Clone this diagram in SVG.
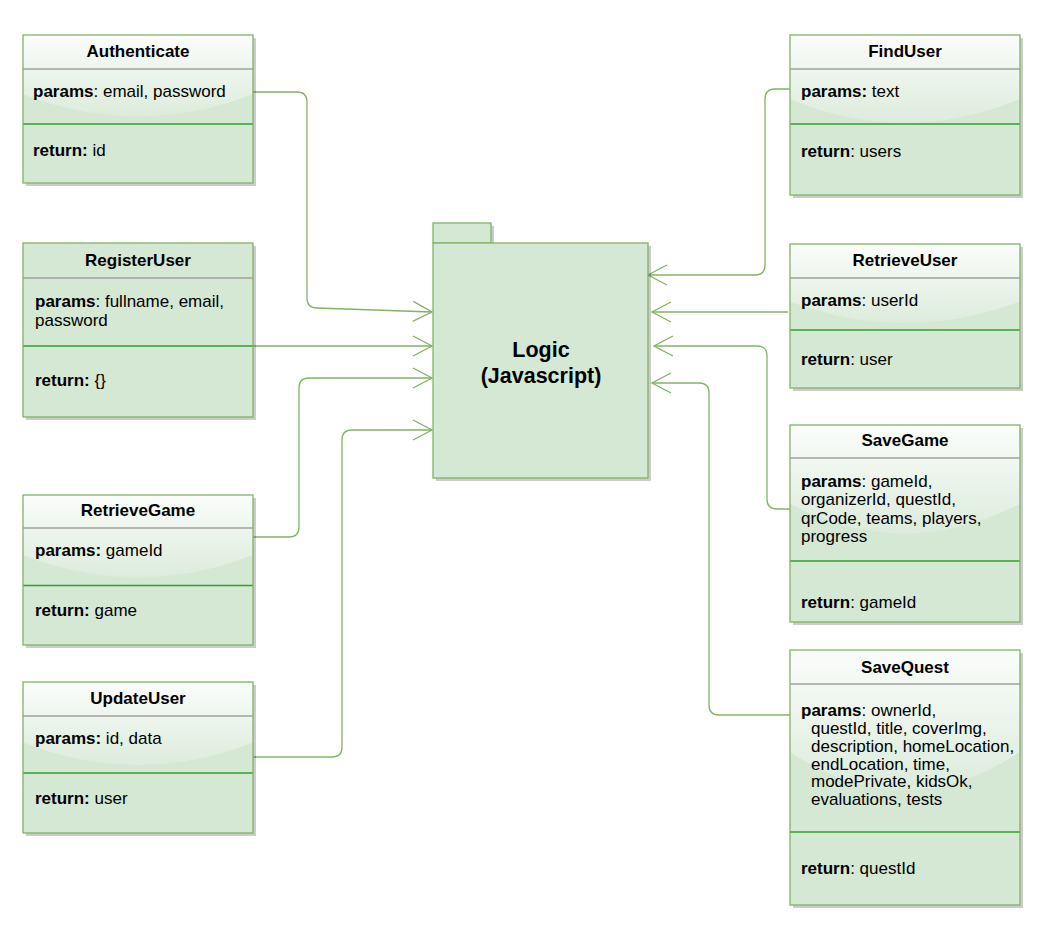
<svg xmlns="http://www.w3.org/2000/svg" width="1049" height="935" viewBox="0 0 1049 935">
<style>
.shadow{fill:#000;fill-opacity:0.2}
.box{fill:#d5e8d4}
.border{fill:none;stroke:#82b366;stroke-width:1.3}
.glass{fill:url(#glassGrad)}
.tsep{stroke:#a0a0a0;stroke-width:1.3}
.msep{stroke:#2f9e2f;stroke-width:1.3}
text{font-family:"Liberation Sans",Arial,Helvetica,sans-serif;font-size:17px;fill:#000}
.title{font-weight:bold;text-anchor:middle}
.b{font-weight:bold}
.big{font-size:21.5px;font-weight:bold;text-anchor:middle}
.conn{fill:none;stroke:#82b366;stroke-width:1.3;marker-end:url(#arr)}
</style>
<defs>
<linearGradient id="glassGrad" x1="0" y1="0" x2="0" y2="1.09">
<stop offset="0" stop-color="#fff" stop-opacity="0.9"/>
<stop offset="1" stop-color="#fff" stop-opacity="0.1"/>
</linearGradient>
<marker id="arr" viewBox="-21 -11 23 22" refX="0" refY="0" markerWidth="23" markerHeight="22" orient="auto" markerUnits="userSpaceOnUse">
<path d="M-19,-10 L0,0 L-19,10" fill="none" stroke="#82b366" stroke-width="1.3"/>
</marker>
</defs>
<rect width="1049" height="935" fill="#fff"/>

<g id="connectors">
<path class="conn" d="M253,92 L297,92 Q307,92 307,102 L307,298 Q307,308 317,308 L432,312"/>
<path class="conn" d="M253,346 L432,346"/>
<path class="conn" d="M253,537 L289,537 Q299,537 299,527 L299,388 Q299,378 309,378 L432,378"/>
<path class="conn" d="M253,757 L332,757 Q342,757 342,747 L342,440 Q342,430 352,430 L432,430"/>
<path class="conn" d="M790,89 L775,89 Q765,89 765,99 L765,265 Q765,275 755,275 L648,275"/>
<path class="conn" d="M788,312 L652,312"/>
<path class="conn" d="M790,509 L777,509 Q767,509 767,499 L767,356 Q767,346 757,346 L654,346"/>
<path class="conn" d="M790,715 L719,715 Q709,715 709,705 L709,393 Q709,383 699,383 L652,383"/>
</g>

<g id="logic">
<rect class="shadow" x="436" y="226" width="58" height="20"/>
<rect class="shadow" x="436" y="246" width="215" height="235"/>
<rect class="box" x="433" y="223" width="58" height="20"/>
<rect class="border" x="433" y="223" width="58" height="20"/>
<rect class="box" x="433" y="243" width="215" height="235"/>
<rect class="border" x="433" y="243" width="215" height="235"/>
<text class="big" x="541" y="357">Logic</text>
<text class="big" x="541" y="383">(Javascript)</text>
</g>

<g id="authenticate">
<rect class="shadow" x="26" y="38" width="230" height="148"/>
<rect class="box" x="23" y="35" width="230" height="148"/>
<path class="glass" d="M23,35 L23,94.2 Q138,138.6 253,94.2 L253,35 Z"/>
<line class="tsep" x1="23" y1="69" x2="253" y2="69"/>
<line class="msep" x1="23" y1="124" x2="253" y2="124"/>
<rect class="border" x="23" y="35" width="230" height="148"/>
<text class="title" x="138" y="57">Authenticate</text>
<text x="33" y="97"><tspan class="b">params</tspan>: email, password</text>
<text x="33" y="156"><tspan class="b">return:</tspan> id</text>
</g>

<g id="registeruser">
<rect class="shadow" x="26" y="246" width="230" height="174"/>
<rect class="box" x="23" y="243" width="230" height="174"/>
<line class="tsep" x1="23" y1="278" x2="253" y2="278"/>
<line class="msep" x1="23" y1="346" x2="253" y2="346"/>
<rect class="border" x="23" y="243" width="230" height="174"/>
<text class="title" x="138" y="266">RegisterUser</text>
<text x="35" y="307"><tspan class="b">params</tspan>: fullname, email,</text>
<text x="35" y="326">password</text>
<text x="35" y="386"><tspan class="b">return:</tspan> {}</text>
</g>

<g id="retrievegame">
<rect class="shadow" x="26" y="498" width="230" height="150"/>
<rect class="box" x="23" y="495" width="230" height="150"/>
<path class="glass" d="M23,495 L23,555 Q138,600 253,555 L253,495 Z"/>
<line class="tsep" x1="23" y1="528" x2="253" y2="528"/>
<line class="msep" x1="23" y1="585.5" x2="253" y2="585.5"/>
<rect class="border" x="23" y="495" width="230" height="150"/>
<text class="title" x="138" y="516">RetrieveGame</text>
<text x="35" y="556"><tspan class="b">params:</tspan> gameId</text>
<text x="35" y="616"><tspan class="b">return:</tspan> game</text>
</g>

<g id="updateuser">
<rect class="shadow" x="26" y="685" width="230" height="151"/>
<rect class="box" x="23" y="682" width="230" height="151"/>
<path class="glass" d="M23,682 L23,742.4 Q138,787.7 253,742.4 L253,682 Z"/>
<line class="tsep" x1="23" y1="716" x2="253" y2="716"/>
<line class="msep" x1="23" y1="773" x2="253" y2="773"/>
<rect class="border" x="23" y="682" width="230" height="151"/>
<text class="title" x="138" y="704">UpdateUser</text>
<text x="35" y="744"><tspan class="b">params:</tspan> id, data</text>
<text x="35" y="804"><tspan class="b">return:</tspan> user</text>
</g>

<g id="finduser">
<rect class="shadow" x="793" y="38" width="230" height="160"/>
<rect class="box" x="790" y="35" width="230" height="160"/>
<path class="glass" d="M790,35 L790,99 Q905,147 1020,99 L1020,35 Z"/>
<line class="tsep" x1="790" y1="69" x2="1020" y2="69"/>
<line class="msep" x1="790" y1="124" x2="1020" y2="124"/>
<rect class="border" x="790" y="35" width="230" height="160"/>
<text class="title" x="905" y="57">FindUser</text>
<text x="801" y="97"><tspan class="b">params:</tspan> text</text>
<text x="801" y="157"><tspan class="b">return</tspan>: users</text>
</g>

<g id="retrieveuser">
<rect class="shadow" x="793" y="247" width="230" height="144"/>
<rect class="box" x="790" y="244" width="230" height="144"/>
<path class="glass" d="M790,244 L790,301.6 Q905,344.8 1020,301.6 L1020,244 Z"/>
<line class="tsep" x1="790" y1="278" x2="1020" y2="278"/>
<line class="msep" x1="790" y1="330" x2="1020" y2="330"/>
<rect class="border" x="790" y="244" width="230" height="144"/>
<text class="title" x="905" y="266">RetrieveUser</text>
<text x="801" y="306"><tspan class="b">params</tspan>: userId</text>
<text x="801" y="365"><tspan class="b">return</tspan>: user</text>
</g>

<g id="savegame">
<rect class="shadow" x="793" y="428" width="230" height="197"/>
<rect class="box" x="790" y="425" width="230" height="197"/>
<path class="glass" d="M790,425 L790,503.8 Q905,562.9 1020,503.8 L1020,425 Z"/>
<line class="tsep" x1="790" y1="458" x2="1020" y2="458"/>
<line class="msep" x1="790" y1="561" x2="1020" y2="561"/>
<rect class="border" x="790" y="425" width="230" height="197"/>
<text class="title" x="905" y="446">SaveGame</text>
<text x="801" y="487"><tspan class="b">params</tspan>: gameId,</text>
<text x="801" y="505">organizerId, questId,</text>
<text x="801" y="523.5">qrCode, teams, players,</text>
<text x="801" y="542">progress</text>
<text x="801" y="607.5"><tspan class="b">return</tspan>: gameId</text>
</g>

<g id="savequest">
<rect class="shadow" x="793" y="653" width="230" height="255"/>
<rect class="box" x="790" y="650" width="230" height="255"/>
<path class="glass" d="M790,650 L790,752 Q905,828.5 1020,752 L1020,650 Z"/>
<line class="tsep" x1="790" y1="684" x2="1020" y2="684"/>
<line class="msep" x1="790" y1="832" x2="1020" y2="832"/>
<rect class="border" x="790" y="650" width="230" height="255"/>
<text class="title" x="905" y="672.5">SaveQuest</text>
<text x="801" y="716"><tspan class="b">params</tspan>: ownerId,</text>
<text x="811" y="734">questId, title, coverImg,</text>
<text x="811" y="752">description, homeLocation,</text>
<text x="811" y="769.5">endLocation, time,</text>
<text x="811" y="787">modePrivate, kidsOk,</text>
<text x="811" y="804.5">evaluations, tests</text>
<text x="801" y="874"><tspan class="b">return</tspan>: questId</text>
</g>
</svg>
